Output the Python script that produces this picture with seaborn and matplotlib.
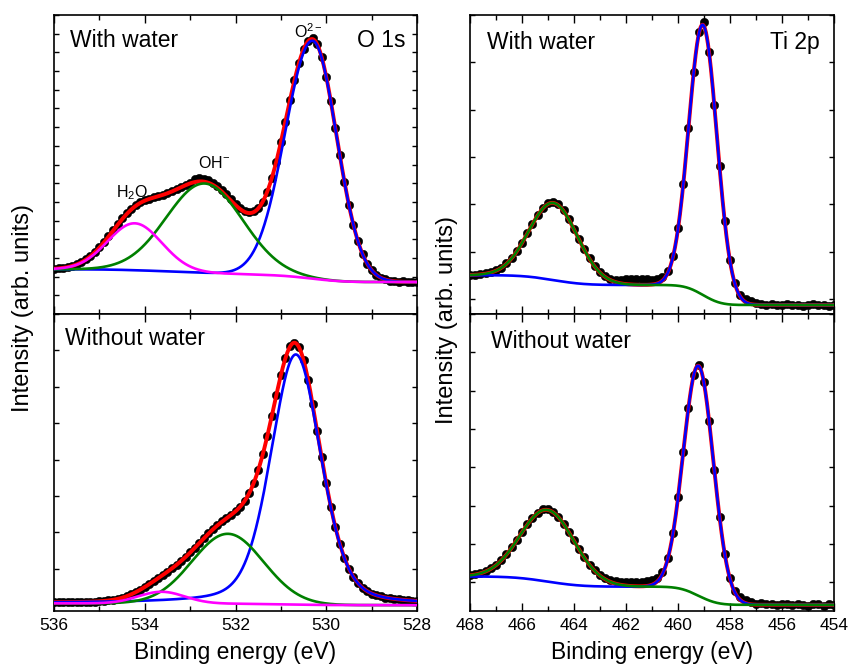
import numpy as np
import matplotlib
matplotlib.use("Agg")
import matplotlib.pyplot as plt
import seaborn as sns
from matplotlib.ticker import MultipleLocator

o1s_energy = np.round(np.arange(5280, 5361) / 10, 1)          # 528.0 ... 536.0 eV, 0.1 eV step
ti_energy = np.round(np.arange(4540, 4681, 2) / 10, 1)         # 454.0 ... 468.0 eV, 0.2 eV step

o1s_with_water = [
    171, 173, 170, 174, 173, 176, 178, 187, 195, 211,
    235, 270, 320, 388, 475, 583, 709, 849, 996, 1140,
    1269, 1374, 1443, 1475, 1460, 1416, 1344, 1251, 1143, 1030,
    919, 816, 727, 655, 601, 568, 550, 546, 553, 568,
    590, 614, 640, 664, 685, 703, 716, 724, 726, 720,
    703, 692, 680, 668, 657, 646, 638, 631, 624, 617,
    609, 597, 582, 563, 540, 513, 483, 450, 418, 387,
    357, 332, 309, 292, 277, 266, 258, 252, 247, 245,
    243]

o1s_without_water = [
    112, 112, 113, 114, 116, 117, 119, 121, 124, 127,
    132, 139, 148, 160, 177, 200, 230, 268, 315, 371,
    435, 506, 579, 652, 720, 774, 809, 821, 811, 779,
    732, 677, 621, 565, 515, 471, 436, 408, 386, 370,
    359, 349, 339, 330, 320, 309, 297, 284, 271, 257,
    245, 233, 221, 211, 201, 192, 183, 175, 166, 158,
    150, 142, 136, 130, 125, 121, 117, 115, 113, 112,
    111, 110, 110, 109, 109, 109, 109, 108, 108, 108,
    108]

ti2p_with_water = [
    86, 84, 88, 86, 89, 87, 85, 88, 87, 89,
    88, 86, 89, 88, 90, 92, 95, 99, 108, 133,
    182, 265, 380, 509, 621, 686, 664, 579, 461, 343,
    250, 190, 158, 146, 141, 140, 141, 142, 141, 142,
    141, 140, 140, 143, 148, 157, 169, 186, 205, 226,
    248, 269, 288, 300, 305, 302, 292, 278, 259, 240,
    219, 202, 187, 175, 166, 160, 157, 154, 152, 151,
    150]

ti2p_without_water = [
    40, 43, 38, 42, 44, 39, 41, 43, 40, 42,
    44, 41, 43, 42, 45, 44, 48, 53, 61, 78,
    112, 175, 271, 393, 521, 622, 668, 641, 556, 439,
    322, 228, 164, 128, 112, 105, 102, 101, 100, 100,
    100, 101, 103, 106, 111, 119, 131, 146, 165, 186,
    209, 232, 253, 271, 284, 291, 290, 282, 268, 251,
    231, 210, 191, 173, 158, 145, 136, 129, 124, 121,
    118]

# ---------------- fitted components ----------------
# centre (eV), height, FWHM on the low-BE side, FWHM on the high-BE side, Lorentz fraction
o1s_w_centers = [530.30, 532.68, 534.22]      # O2-, OH-, H2O
o1s_w_heights = [1273, 478, 251]
o1s_w_fwhm_lo = [1.25, 1.98, 1.40]
o1s_w_fwhm_hi = [1.42, 1.98, 1.40]
o1s_w_eta = [0.0, 0.0, 0.0]
o1s_w_bg = [171, 239]          # Shirley background at 528 eV and at 536 eV

o1s_d_centers = [530.67, 532.17, 533.63]
o1s_d_heights = [687, 192, 32]
o1s_d_fwhm_lo = [1.30, 1.85, 1.20]
o1s_d_fwhm_hi = [1.30, 1.85, 1.20]
o1s_d_eta = [0.3, 0.0, 0.0]
o1s_d_bg = [100, 105]

ti_w_centers = [459.04, 464.79]               # Ti 2p3/2, Ti 2p1/2
ti_w_heights = [571, 163]
ti_w_fwhm_lo = [1.28, 2.19]
ti_w_fwhm_hi = [1.28, 2.19]
ti_w_eta = [0.0, 0.0]
ti_w_bg = [87, 150]            # at 454 eV and at 468 eV

ti_d_centers = [459.21, 465.02]
ti_d_heights = [600, 187]
ti_d_fwhm_lo = [1.36, 2.44]
ti_d_fwhm_hi = [1.36, 2.44]
ti_d_eta = [0.0, 0.0]
ti_d_bg = [41, 115]


def peak(x, c, h, flo, fhi, eta):
    f = np.where(x < c, flo, fhi)
    g = np.exp(-4 * np.log(2) * (x - c) ** 2 / f ** 2)
    lo = 1.0 / (1.0 + 4 * (x - c) ** 2 / f ** 2)
    return h * ((1 - eta) * g + eta * lo)


def model(x, centers, heights, flo, fhi, eta, bg):
    comps = [peak(x, *p) for p in zip(centers, heights, flo, fhi, eta)]
    tot = np.sum(comps, axis=0)
    cum = np.concatenate([[0], np.cumsum((tot[1:] + tot[:-1]) / 2 * np.diff(x))])
    back = bg[0] + (bg[1] - bg[0]) * cum / cum[-1]
    return comps, back


sns.set_theme(style="ticks")
plt.rcParams["font.family"] = ["Liberation Sans", "DejaVu Sans"]
plt.rcParams["mathtext.fontset"] = "custom"
plt.rcParams["mathtext.rm"] = "Liberation Sans"
plt.rcParams["mathtext.it"] = "Liberation Sans:italic"
plt.rcParams["mathtext.default"] = "regular"
plt.rcParams["text.color"] = "black"
plt.rcParams["axes.labelcolor"] = "black"
plt.rcParams["xtick.color"] = "black"
plt.rcParams["ytick.color"] = "black"

W, H = 851, 671
fig = plt.figure(figsize=(W / 100, H / 100), dpi=100)
axs = {
    "tl": fig.add_axes([54 / W, 1 - 314 / H, 363 / W, 299 / H]),
    "bl": fig.add_axes([54 / W, 1 - 611 / H, 363 / W, 297 / H]),
    "tr": fig.add_axes([470 / W, 1 - 314 / H, 364 / W, 299 / H]),
    "br": fig.add_axes([470 / W, 1 - 611 / H, 364 / W, 297 / H]),
}

o_cols = ["#0000ff", "#008000", "#ff00ff"]
t_cols = ["#0000ff", "#008000"]
panels = [
    ("tl", o1s_energy, o1s_with_water, (528, 536), (0, 1600), o_cols,
     (o1s_w_centers, o1s_w_heights, o1s_w_fwhm_lo, o1s_w_fwhm_hi, o1s_w_eta, o1s_w_bg)),
    ("bl", o1s_energy, o1s_without_water, (528, 536), (84, 900), o_cols,
     (o1s_d_centers, o1s_d_heights, o1s_d_fwhm_lo, o1s_d_fwhm_hi, o1s_d_eta, o1s_d_bg)),
    ("tr", ti_energy, ti2p_with_water, (454, 468), (68, 700), t_cols,
     (ti_w_centers, ti_w_heights, ti_w_fwhm_lo, ti_w_fwhm_hi, ti_w_eta, ti_w_bg)),
    ("br", ti_energy, ti2p_without_water, (454, 468), (25, 800), t_cols,
     (ti_d_centers, ti_d_heights, ti_d_fwhm_lo, ti_d_fwhm_hi, ti_d_eta, ti_d_bg)),
]

for name, xg, yg, (lo, hi), ylim, cols, p in panels:
    ax = axs[name]
    xd = np.linspace(lo, hi, 1601)
    comps, back = model(xd, *p)
    env = np.sum(comps, axis=0) + back
    sns.scatterplot(x=xg, y=yg, ax=ax, color="black", s=36, edgecolor="black",
                    linewidth=0.4, zorder=2, legend=False)
    sns.lineplot(x=xd, y=env, ax=ax, color="#ff0000", lw=2.8, zorder=3, estimator=None)
    for i, (c, col) in enumerate(zip(comps, cols)):
        sns.lineplot(x=xd, y=c + back, ax=ax, color=col, lw=1.9, zorder=4 + i, estimator=None)
    ax.set_xlim(hi, lo)
    ax.set_ylim(*ylim)
    ax.xaxis.set_major_locator(MultipleLocator(2))
    ax.xaxis.set_minor_locator(MultipleLocator(1))
    ax.yaxis.set_major_locator(MultipleLocator(100))
    ax.tick_params(which="both", direction="in", top=True, right=True, width=1.0,
                   colors="black", labelsize=12.5, pad=5)
    ax.tick_params(axis="x", which="major", length=6)
    ax.tick_params(axis="x", which="minor", length=3.5)
    ax.tick_params(axis="y", which="major", length=3.5, labelleft=False)
    for s in ax.spines.values():
        s.set_linewidth(1.2)
        s.set_color("black")
    ax.set_ylabel("")
    if name in ("tl", "tr"):
        ax.tick_params(axis="x", labelbottom=False)
        ax.set_xlabel("")
    else:
        ax.set_xlabel("Binding energy (eV)", fontsize=16.5, labelpad=6, color="black")

fs = 16.5
axs["tl"].text(0.044, 0.916, "With water", transform=axs["tl"].transAxes, fontsize=fs, va="center")
axs["tl"].text(0.969, 0.916, "O 1s", transform=axs["tl"].transAxes, fontsize=fs, va="center", ha="right")
axs["tr"].text(0.048, 0.909, "With water", transform=axs["tr"].transAxes, fontsize=fs, va="center")
axs["tr"].text(0.961, 0.909, "Ti 2p", transform=axs["tr"].transAxes, fontsize=fs, va="center", ha="right")
axs["bl"].text(0.030, 0.918, "Without water", transform=axs["bl"].transAxes, fontsize=fs, va="center")
axs["br"].text(0.057, 0.907, "Without water", transform=axs["br"].transAxes, fontsize=fs, va="center")

axs["tl"].text(534.29, 649, r"H$_2$O", fontsize=11.5, ha="center", va="center")
axs["tl"].text(532.48, 808, r"OH$^{-}$", fontsize=11.5, ha="center", va="center")
axs["tl"].text(530.40, 1510, r"O$^{2-}$", fontsize=11.5, ha="center", va="center")

fig.text(23 / W, 1 - 308 / H, "Intensity (arb. units)", rotation=90, fontsize=17,
         ha="center", va="center")
fig.text(446.7 / W, 1 - 320 / H, "Intensity (arb. units)", rotation=90, fontsize=17,
         ha="center", va="center")

fig.savefig("out.png", dpi=100)
